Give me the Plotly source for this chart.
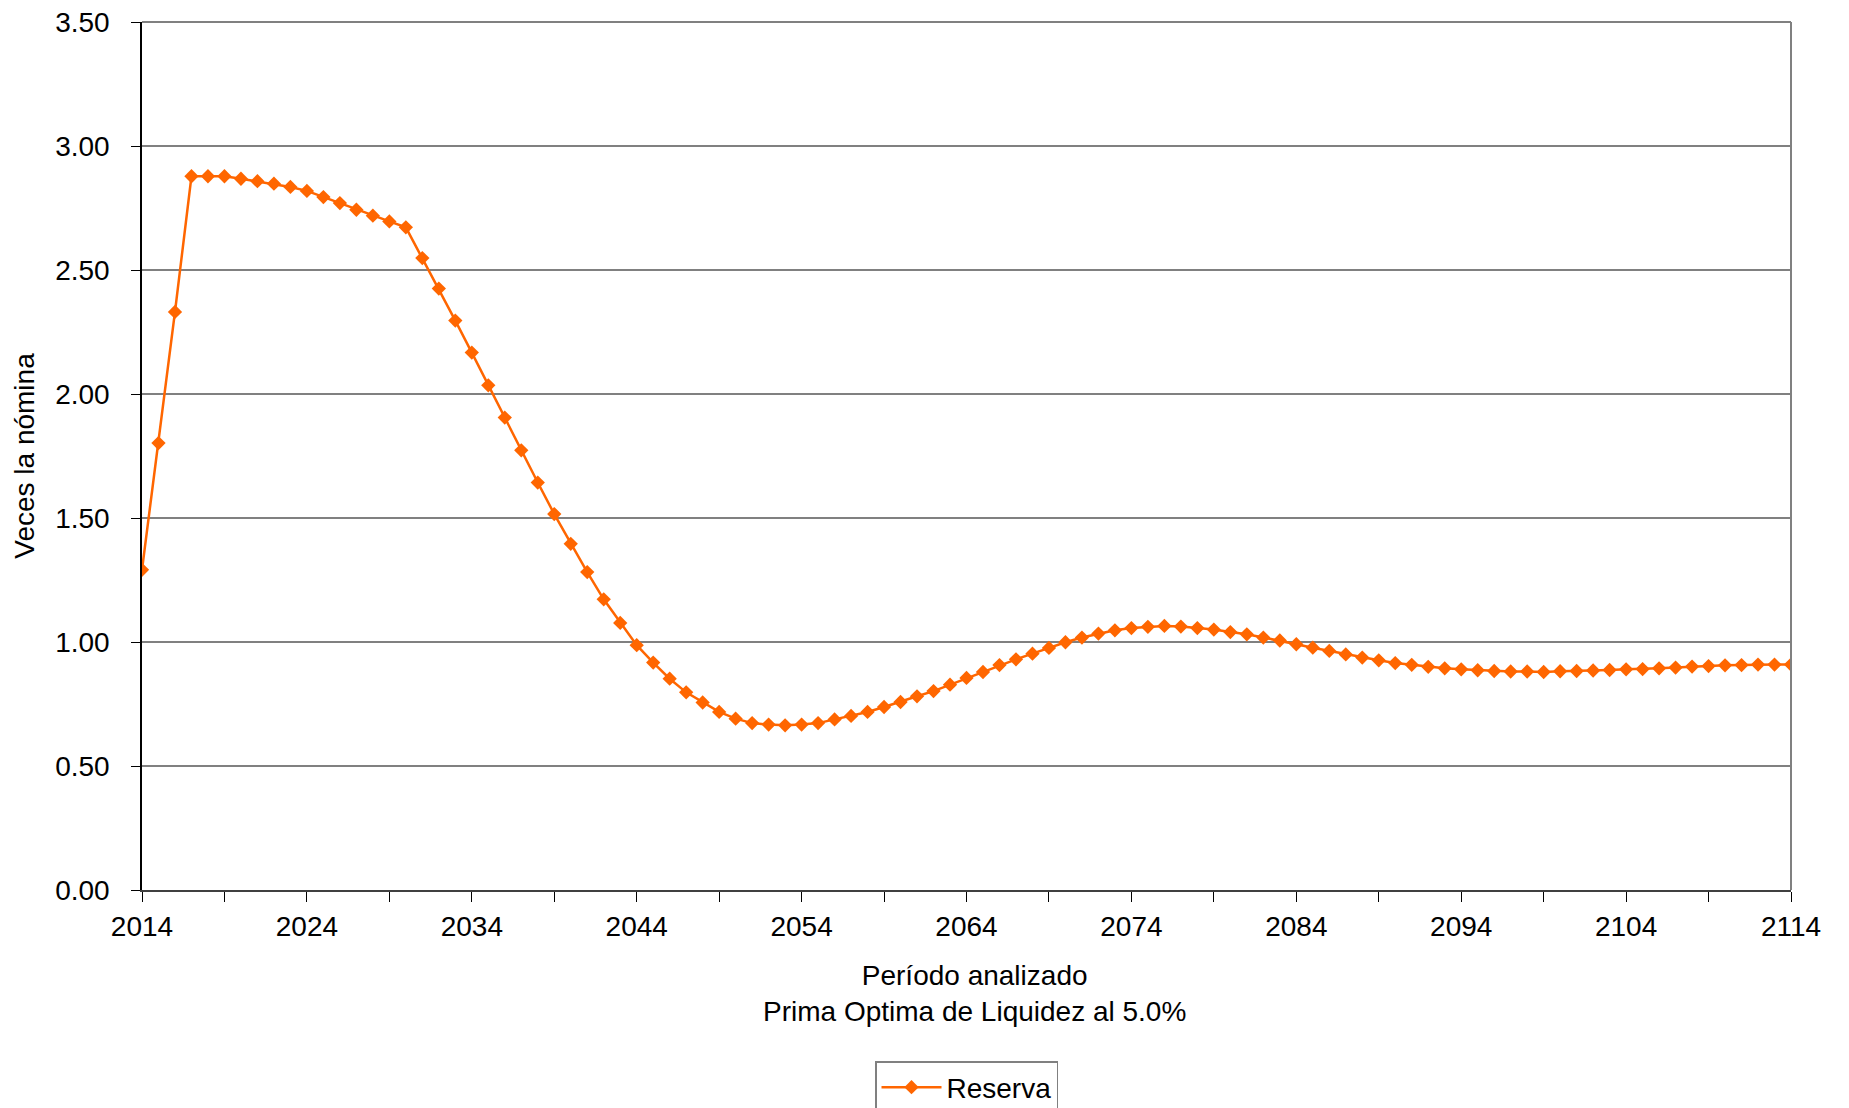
import plotly.graph_objects as go

years = list(range(2014, 2115))
reserva = [
    1.291, 1.802, 2.331, 2.878, 2.878, 2.878, 2.868, 2.858, 2.848, 2.835,  # 2014-2023
    2.819, 2.794, 2.770, 2.743, 2.719, 2.696, 2.672, 2.548, 2.425, 2.296,  # 2024-2033
    2.167, 2.035, 1.905, 1.773, 1.643, 1.516, 1.396, 1.282, 1.172, 1.077,  # 2034-2043
    0.987, 0.917, 0.852, 0.797, 0.756, 0.718, 0.691, 0.673, 0.667, 0.664,  # 2044-2053
    0.667, 0.673, 0.688, 0.702, 0.718, 0.738, 0.758, 0.781, 0.802, 0.828,  # 2054-2063
    0.855, 0.879, 0.907, 0.930, 0.953, 0.976, 0.999, 1.018, 1.034, 1.047,  # 2064-2073
    1.056, 1.061, 1.065, 1.062, 1.056, 1.050, 1.040, 1.031, 1.018, 1.006,  # 2074-2083
    0.991, 0.977, 0.964, 0.950, 0.937, 0.926, 0.915, 0.908, 0.900, 0.894,  # 2084-2093
    0.890, 0.886, 0.883, 0.881, 0.881, 0.879, 0.882, 0.883, 0.885, 0.887,  # 2094-2103
    0.890, 0.891, 0.894, 0.897, 0.901, 0.903, 0.906, 0.907, 0.909, 0.909,  # 2104-2113
    0.909,                                                                 # 2114
]

x_tickvals = list(range(2014, 2115, 5))
x_ticktext = [str(v) if (v - 2014) % 10 == 0 else "" for v in x_tickvals]
y_tickvals = [0, 0.5, 1.0, 1.5, 2.0, 2.5, 3.0, 3.5]
y_ticktext = ["%.2f" % v for v in y_tickvals]

FONT = "Liberation Sans, Arial, sans-serif"
FS = 28

fig = go.Figure()
fig.add_trace(go.Scatter(
    x=years, y=reserva, mode="lines+markers", name="Reserva",
    line=dict(color="#FF6600", width=2.5),
    marker=dict(symbol="diamond", size=11, color="#FF6600"),
))

fig.update_layout(
    width=1849, height=1108,
    margin=dict(l=142, r=58, t=22, b=218, autoexpand=False),
    paper_bgcolor="white", plot_bgcolor="white",
    font=dict(family=FONT, size=FS, color="black"),
    showlegend=True,
    legend=dict(
        orientation="h", x=0.5, xanchor="center",
        yref="container", y=1 - 1061 / 1108, yanchor="top",
        bordercolor="#808080", borderwidth=1.5, font=dict(size=FS),
        itemwidth=60,
    ),
    xaxis=dict(
        range=[2014, 2114], tickvals=x_tickvals, ticktext=x_ticktext,
        ticks="outside", ticklen=10, tickwidth=1.2, tickcolor="black",
        showgrid=False, zeroline=False,
        showline=True, linecolor="#404040", linewidth=2, mirror=False,
        tickfont=dict(size=FS),
    ),
    yaxis=dict(
        range=[0, 3.5], tickvals=y_tickvals, ticktext=y_ticktext,
        ticks="outside", ticklen=9, tickwidth=1.2, tickcolor="black",
        ticklabelstandoff=16,
        showgrid=True, gridcolor="#808080", gridwidth=1.5,
        zeroline=False, showline=True, linecolor="black", linewidth=1.5,
        tickfont=dict(size=FS),
        title=dict(text="Veces la nómina", font=dict(size=FS), standoff=12),
    ),
    annotations=[
        dict(text="Período analizado<br>Prima Optima de Liquidez al 5.0%",
             xref="paper", yref="paper", x=0.505, y=-0.0787, xanchor="center",
             yanchor="top", showarrow=False, font=dict(size=FS)),
    ],
    shapes=[
        dict(type="line", xref="paper", yref="paper", x0=1, x1=1, y0=0, y1=1,
             line=dict(color="#808080", width=2)),
        dict(type="line", xref="paper", yref="paper", x0=0, x1=1, y0=1, y1=1,
             line=dict(color="#808080", width=2)),
    ],
)

fig.write_html("out.html", config={"displayModeBar": False},
               post_script="document.body.style.margin='0px';")
